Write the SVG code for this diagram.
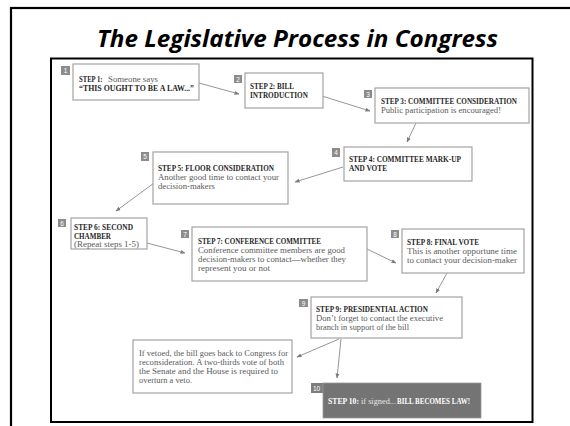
<svg xmlns="http://www.w3.org/2000/svg" width="570" height="426" viewBox="0 0 570 426">
<defs>
<marker id="ah" viewBox="0 0 10 10" refX="9" refY="5" markerWidth="5" markerHeight="5" orient="auto" markerUnits="userSpaceOnUse">
<path d="M0,1 L10,5 L0,9 z" fill="#7a7a7a"/>
</marker>
</defs>
<style>
.box{fill:#fff;stroke:#a3a3a3;stroke-width:1.2}
.badge{fill:#8c8c8c}
.num{font-family:"Liberation Sans",Arial,sans-serif;font-size:6.5px;fill:#fff}
.t{font-family:"Liberation Serif","Times New Roman",serif;font-size:8.6px;fill:#5a5a5a}
.b{font-weight:bold;fill:#262626}
.con line{stroke:#8a8a8a;stroke-width:0.9;marker-end:url(#ah)}
.title{font-family:"Open Sans","Noto Sans",sans-serif;font-size:24px;font-weight:bold;font-style:italic;fill:#000}
</style>
<rect x="0" y="0" width="570" height="426" fill="#fff"/>
<rect x="11" y="8" width="700" height="600" fill="none" stroke="#000" stroke-width="2.2"/>
<text class="title" x="97" y="47" textLength="401" lengthAdjust="spacingAndGlyphs">The Legislative Process in Congress</text>
<rect x="51" y="58.5" width="481.5" height="363.5" fill="#fff" stroke="#000" stroke-width="2"/>

<g id="connectors" class="con">
<line x1="199" y1="83" x2="239" y2="94"/>
<line x1="322" y1="96" x2="370" y2="111"/>
<line x1="416" y1="123" x2="407" y2="142"/>
<line x1="343" y1="167" x2="295" y2="182"/>
<line x1="154" y1="183" x2="116" y2="211"/>
<line x1="147" y1="243" x2="185" y2="253"/>
<line x1="367" y1="249" x2="396" y2="263"/>
<line x1="447" y1="273" x2="436" y2="293"/>
<line x1="339" y1="339" x2="297" y2="357"/>
<line x1="341" y1="339" x2="337" y2="378"/>
</g>

<g id="step1">
<rect class="box" x="73" y="64" width="126" height="36"/>
<rect class="badge" x="61" y="66" width="9" height="9"/>
<text class="num" x="65.5" y="73" text-anchor="middle">1</text>
<text class="t b" x="79" y="82" textLength="23.5" lengthAdjust="spacingAndGlyphs">STEP 1:</text>
<text class="t" x="108" y="82" textLength="50" lengthAdjust="spacingAndGlyphs">Someone says</text>
<text class="t b" x="79" y="91" textLength="115" lengthAdjust="spacingAndGlyphs">“THIS OUGHT TO BE A LAW...”</text>
</g>

<g id="step2">
<rect class="box" x="245" y="73" width="78" height="35"/>
<rect class="badge" x="234" y="75" width="8" height="8"/>
<text class="num" x="238" y="81.5" text-anchor="middle">2</text>
<text class="t b" x="250" y="89" textLength="44" lengthAdjust="spacingAndGlyphs">STEP 2: BILL</text>
<text class="t b" x="250" y="98" textLength="58" lengthAdjust="spacingAndGlyphs">INTRODUCTION</text>
</g>

<g id="step3">
<rect class="box" x="375" y="88" width="154" height="35"/>
<rect class="badge" x="364" y="90" width="8" height="8"/>
<text class="num" x="368" y="96.5" text-anchor="middle">3</text>
<text class="t b" x="381" y="104" textLength="136" lengthAdjust="spacingAndGlyphs">STEP 3: COMMITTEE CONSIDERATION</text>
<text class="t" x="381" y="113" textLength="120" lengthAdjust="spacingAndGlyphs">Public participation is encouraged!</text>
</g>

<g id="step4">
<rect class="box" x="344" y="147" width="128" height="34"/>
<rect class="badge" x="332" y="148" width="8" height="9"/>
<text class="num" x="336" y="155" text-anchor="middle">4</text>
<text class="t b" x="349" y="162" textLength="112" lengthAdjust="spacingAndGlyphs">STEP 4: COMMITTEE MARK-UP</text>
<text class="t b" x="349" y="171" textLength="38" lengthAdjust="spacingAndGlyphs">AND VOTE</text>
</g>

<g id="step5">
<rect class="box" x="153" y="152" width="135" height="52"/>
<rect class="badge" x="141" y="152" width="8" height="9"/>
<text class="num" x="145" y="159" text-anchor="middle">5</text>
<text class="t b" x="158" y="171" textLength="116" lengthAdjust="spacingAndGlyphs">STEP 5: FLOOR CONSIDERATION</text>
<text class="t" x="158" y="180" textLength="121" lengthAdjust="spacingAndGlyphs">Another good time to contact your</text>
<text class="t" x="158" y="189" textLength="57" lengthAdjust="spacingAndGlyphs">decision-makers</text>
</g>

<g id="step6">
<rect class="box" x="71" y="218" width="76" height="31"/>
<rect class="badge" x="58" y="219" width="8" height="8"/>
<text class="num" x="62" y="225.5" text-anchor="middle">6</text>
<text class="t b" x="74" y="230" textLength="59" lengthAdjust="spacingAndGlyphs">STEP 6: SECOND</text>
<text class="t b" x="74" y="238.5" textLength="37" lengthAdjust="spacingAndGlyphs">CHAMBER</text>
<text class="t" x="74" y="247" textLength="65" lengthAdjust="spacingAndGlyphs">(Repeat steps 1-5)</text>
</g>

<g id="step7">
<rect class="box" x="192" y="227" width="175" height="54"/>
<rect class="badge" x="181" y="230" width="8" height="8"/>
<text class="num" x="185" y="236.5" text-anchor="middle">7</text>
<text class="t b" x="198" y="244" textLength="123" lengthAdjust="spacingAndGlyphs">STEP 7: CONFERENCE COMMITTEE</text>
<text class="t" x="198" y="252.5" textLength="147" lengthAdjust="spacingAndGlyphs">Conference committee members are good</text>
<text class="t" x="198" y="262" textLength="148" lengthAdjust="spacingAndGlyphs">decision-makers to contact—whether they</text>
<text class="t" x="198" y="270.5" textLength="72" lengthAdjust="spacingAndGlyphs">represent you or not</text>
</g>

<g id="step8">
<rect class="box" x="402" y="229" width="122" height="44"/>
<rect class="badge" x="391" y="230" width="8" height="8"/>
<text class="num" x="395" y="236.5" text-anchor="middle">8</text>
<text class="t b" x="407" y="245" textLength="72" lengthAdjust="spacingAndGlyphs">STEP 8: FINAL VOTE</text>
<text class="t" x="407" y="254" textLength="110" lengthAdjust="spacingAndGlyphs">This is another opportune time</text>
<text class="t" x="407" y="263" textLength="110" lengthAdjust="spacingAndGlyphs">to contact your decision-maker</text>
</g>

<g id="step9">
<rect class="box" x="311" y="297" width="151" height="41"/>
<rect class="badge" x="299" y="299" width="9" height="8"/>
<text class="num" x="303.5" y="305.5" text-anchor="middle">9</text>
<text class="t b" x="316" y="312" textLength="112" lengthAdjust="spacingAndGlyphs">STEP 9: PRESIDENTIAL ACTION</text>
<text class="t" x="316" y="321" textLength="127" lengthAdjust="spacingAndGlyphs">Don’t forget to contact the executive</text>
<text class="t" x="316" y="330" textLength="93" lengthAdjust="spacingAndGlyphs">branch in support of the bill</text>
</g>

<g id="veto">
<rect class="box" x="133" y="340" width="159" height="53"/>
<text class="t" x="139" y="356" textLength="149" lengthAdjust="spacingAndGlyphs">If vetoed, the bill goes back to Congress for</text>
<text class="t" x="139" y="365" textLength="145" lengthAdjust="spacingAndGlyphs">reconsideration. A two-thirds vote of both</text>
<text class="t" x="139" y="374" textLength="139" lengthAdjust="spacingAndGlyphs">the Senate and the House is required to</text>
<text class="t" x="139" y="383" textLength="53" lengthAdjust="spacingAndGlyphs">overturn a veto.</text>
</g>

<g id="step10">
<rect x="311" y="383" width="12" height="10" fill="#7d7d7d"/>
<rect x="323" y="383" width="158" height="35" fill="#747474" stroke="#9a9a9a" stroke-width="0.8"/>
<text class="num" x="313" y="390.5" fill="#f0f0f0">10</text>
<text class="t b" x="328" y="404" textLength="31" lengthAdjust="spacingAndGlyphs" style="fill:#ffffff">STEP 10:</text>
<text class="t" x="361" y="404" textLength="35" lengthAdjust="spacingAndGlyphs" style="fill:#e6e6e6">if signed...</text>
<text class="t b" x="397" y="404" textLength="73" lengthAdjust="spacingAndGlyphs" style="fill:#ffffff">BILL BECOMES LAW!</text>
</g>
</svg>
